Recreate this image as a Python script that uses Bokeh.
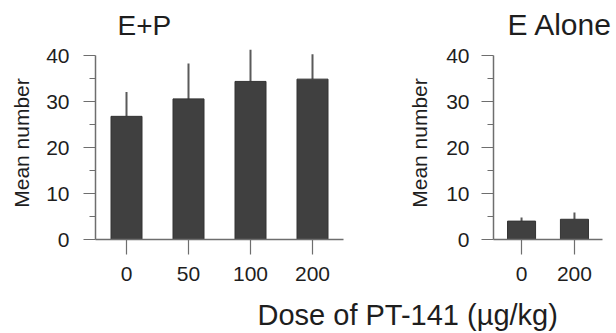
from bokeh.plotting import figure
from bokeh.models import ColumnDataSource, FixedTicker, Label
from bokeh.layouts import column, row
from bokeh.embed import file_html
from bokeh.resources import INLINE

# ---- data ----
ep_doses = ["0", "50", "100", "200"]
ep_means = [26.8, 30.6, 34.4, 34.9]
ep_sem = [5.3, 7.7, 6.9, 5.4]

ea_doses = ["0", "200"]
ea_means = [4.0, 4.4]
ea_sem = [0.8, 1.5]

y_ticks = [0, 10, 20, 30, 40]
y_minor = [5, 15, 25, 35]

FONT = "Liberation Sans"
BAR = "#404040"
AXC = "#6e6e6e"
TXT = "#1e1e1e"


def panel(title, title_size, doses, means, sems, width, min_left, min_right, xr, bar_w,
          title_off, lab_standoff, ax_standoff):
    xs = list(range(len(doses)))
    src = ColumnDataSource(dict(x=xs, top=means, hi=[m + s for m, s in zip(means, sems)]))
    p = figure(width=width, height=300, x_range=xr, y_range=(0, 42),
               output_backend="svg", toolbar_location=None,
               min_border_left=min_left, min_border_right=min_right,
               min_border_top=45, min_border_bottom=61)
    p.outline_line_color = None
    p.xgrid.visible = False
    p.ygrid.visible = False
    p.segment(x0="x", y0="top", x1="x", y1="hi", source=src, line_color="#5a5a5a", line_width=2)
    p.vbar(x="x", top="top", bottom=0, width=bar_w, source=src,
           fill_color=BAR, line_color="#333333", line_width=1)

    p.title.text = title
    p.title.align = "left"
    p.title.offset = title_off
    p.title.text_font = FONT
    p.title.text_font_size = title_size
    p.title.text_font_style = "normal"
    p.title.text_color = TXT
    p.title.standoff = 11

    ya = p.yaxis[0]
    ya.ticker = FixedTicker(ticks=y_ticks, minor_ticks=y_minor)
    ya.bounds = (0, 40)
    ya.axis_line_color = AXC
    ya.axis_line_width = 1.5
    ya.major_tick_line_color = AXC
    ya.minor_tick_line_color = AXC
    ya.major_tick_line_width = 1.2
    ya.minor_tick_line_width = 1.2
    ya.major_tick_out = 12
    ya.major_tick_in = 0
    ya.minor_tick_out = 6
    ya.minor_tick_in = 0
    ya.major_label_text_font = FONT
    ya.major_label_text_font_size = "21px"
    ya.major_label_text_color = TXT
    ya.major_label_standoff = lab_standoff
    ya.axis_label = "Mean number"
    ya.axis_label_text_font = FONT
    ya.axis_label_text_font_size = "21px"
    ya.axis_label_text_font_style = "normal"
    ya.axis_label_text_color = TXT
    ya.axis_label_standoff = ax_standoff

    xa = p.xaxis[0]
    xa.ticker = FixedTicker(ticks=xs)
    xa.major_label_overrides = {i: d for i, d in zip(xs, doses)}
    xa.axis_line_color = AXC
    xa.axis_line_width = 1.5
    xa.major_tick_line_color = AXC
    xa.major_tick_line_width = 1.2
    xa.major_tick_out = 15
    xa.major_tick_in = 0
    xa.minor_tick_line_color = None
    xa.major_label_text_font = FONT
    xa.major_label_text_font_size = "21px"
    xa.major_label_text_color = TXT
    xa.major_label_standoff = 12
    return p


p1 = panel("E+P", "28px", ep_doses, ep_means, ep_sem, 380, 95, 37, (-0.5, 3.5), 0.5, 22, 14, 10)
p2 = panel("E Alone", "30px", ea_doses, ea_means, ea_sem, 236, 113, 14, (-0.53, 1.53), 0.53, 14, 12, 12)

p3 = figure(width=616, height=33, x_range=(0, 616), y_range=(0, 33), title=None,
            x_axis_type=None, y_axis_type=None,
            output_backend="svg", toolbar_location=None, min_border=0)
p3.outline_line_color = None
p3.grid.visible = False
p3.add_layout(Label(x=257, y=0, y_offset=19, text="Dose of PT-141 (\u00b5g/kg)", text_font=FONT,
                    text_font_size="29px", text_color=TXT, text_baseline="alphabetic"))

layout = column(row(p1, p2), p3)
open("out.html", "w").write(file_html(layout, INLINE))
